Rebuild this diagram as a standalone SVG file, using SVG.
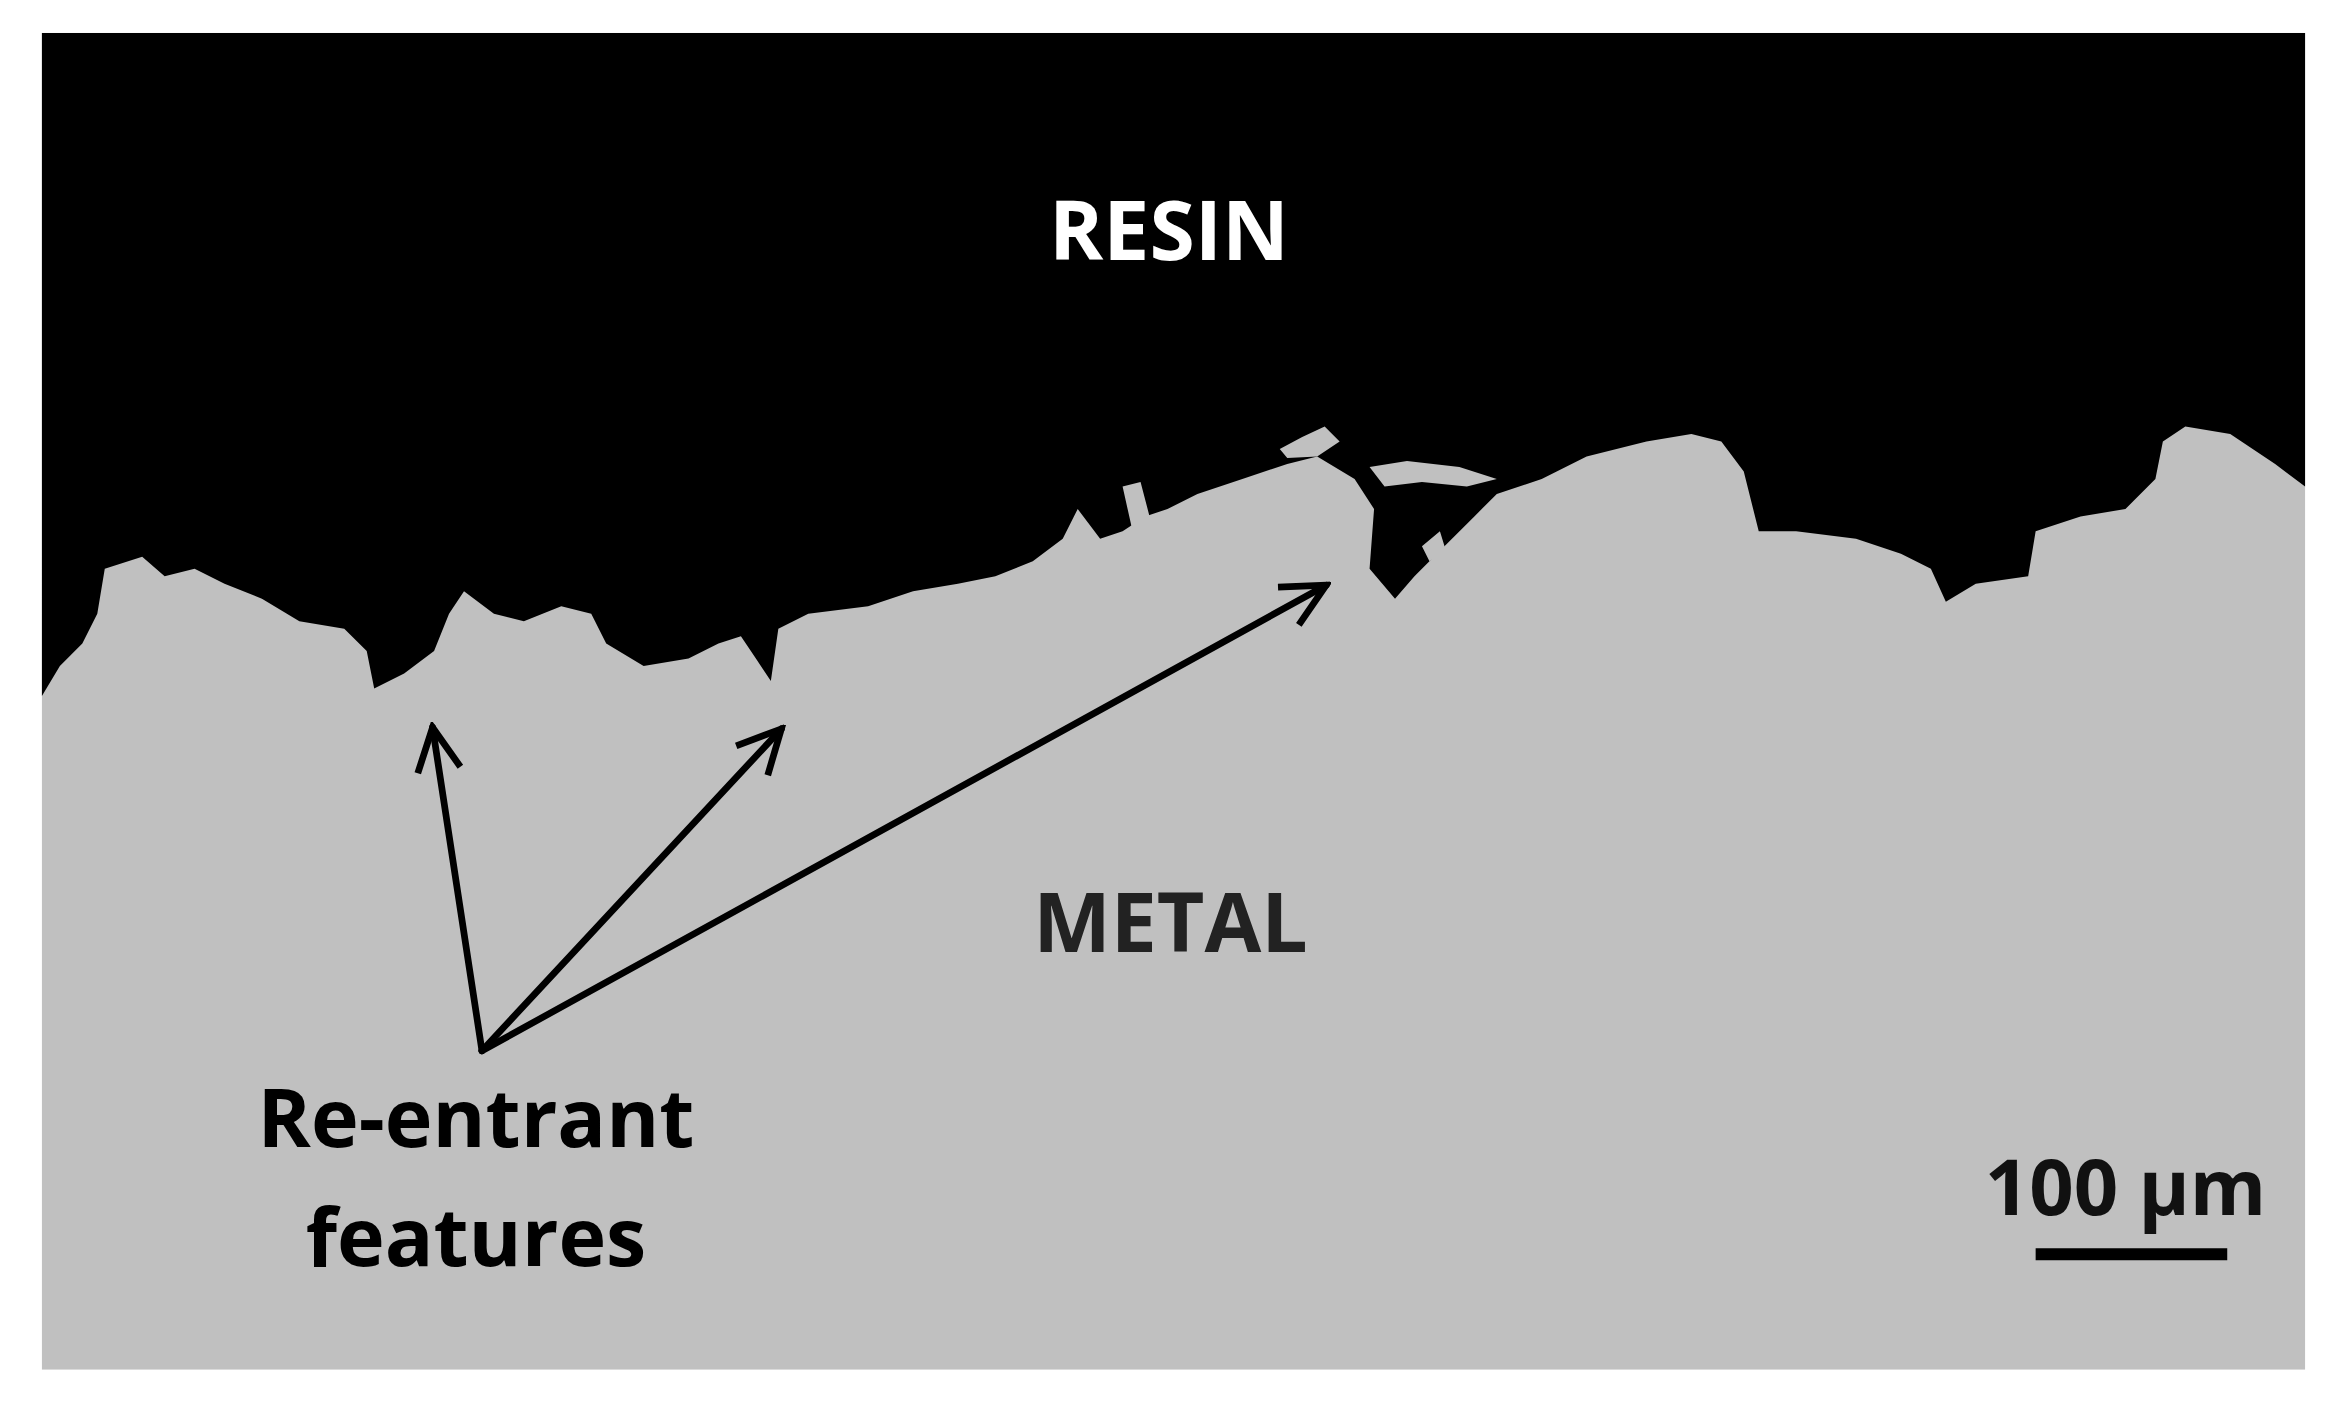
<svg xmlns="http://www.w3.org/2000/svg" width="2347" height="1413" viewBox="0 0 2347 1413">
<style>
.lbl{font-family:"Open Sans","Liberation Sans",sans-serif;font-weight:700}
.arr{stroke:#000;stroke-width:4.5;fill:none;stroke-linecap:round}
</style>
<defs><marker id="ah" viewBox="0 0 20 20" refX="18" refY="10" markerWidth="8" markerHeight="8" markerUnits="strokeWidth" orient="auto"><path d="M2,2 L18,10 L2,18" fill="none" stroke="#000" stroke-width="2.5"/></marker></defs>
<rect width="2347" height="1413" fill="#fff"/>
<g transform="scale(1.4968)">
<g id="metal"><rect x="28" y="22" width="1512" height="893" fill="#c0c0c0"/></g>
<g id="resin">
<path fill="#000" d="M28,22 H1540 V325 L1520,310 L1490,290 L1460,285 L1445,295 L1440,320 L1420,340 L1390,345 L1360,355 L1355,385 L1320,390 L1300,402 L1290,380 L1270,370 L1240,360 L1200,355 L1175,355 L1165,315 L1150,295 L1130,290 L1100,295 L1060,305 L1030,320 L1000,330 L985,345 L960,370 L945,385 L932,400 L915,380 L918,340 L905,320 L880,305 L860,310 L830,320 L800,330 L780,340 L765,345 L750,355 L735,360 L720,340 L710,360 L690,375 L665,385 L640,390 L610,395 L580,405 L540,410 L520,420 L515,455 L505,440 L495,425 L480,430 L460,440 L430,445 L405,430 L395,410 L375,405 L350,415 L330,410 L310,395 L300,410 L290,435 L270,450 L250,460 L245,435 L230,420 L200,415 L175,400 L150,390 L130,380 L110,385 L95,372 L70,380 L65,410 L55,430 L40,445 L28,465 Z"/>
<path fill="#c0c0c0" d="M855,300 L870,292 L885,285 L895,295 L880,305 L860,306 Z M915,312 L940,308 L975,312 L1000,320 L980,325 L950,322 L925,325 Z M750,325 L762,322 L768,345 L756,352 Z M950,365 L962,355 L966,368 L955,375 Z"/>
</g>
<g id="labels">
<text class="lbl" x="781" y="174" font-size="55" fill="#fff" text-anchor="middle">RESIN</text>
<text class="lbl" x="782" y="636" font-size="55" fill="#222" text-anchor="middle">METAL</text>
<text class="lbl" x="318" y="766" font-size="54" fill="#000" text-anchor="middle" font-weight="600">Re-entrant</text>
<text class="lbl" x="318" y="846" font-size="54" fill="#000" text-anchor="middle" font-weight="600">features</text>
<text class="lbl" x="1420" y="812" font-size="52" fill="#111" text-anchor="middle">100 µm</text>
<line x1="1360" y1="838" x2="1488" y2="838" stroke="#000" stroke-width="8"/>
</g>
<g id="connectors">
<line class="arr" x1="322" y1="702" x2="289" y2="486" marker-end="url(#ah)"/>
<line class="arr" x1="322" y1="702" x2="522" y2="487" marker-end="url(#ah)"/>
<line class="arr" x1="322" y1="702" x2="886" y2="391" marker-end="url(#ah)"/>
</g>
</g>
</svg>
